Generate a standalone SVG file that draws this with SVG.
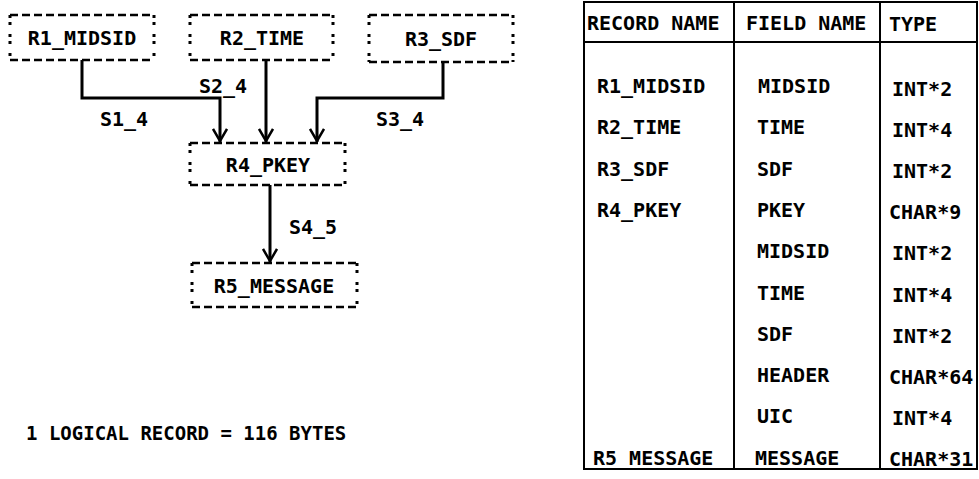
<svg xmlns="http://www.w3.org/2000/svg" width="979" height="479" viewBox="0 0 979 479">
<style>
.t{font-family:"DejaVu Sans Mono","Liberation Mono",monospace;font-size:20px;font-weight:bold;fill:#000}
.m{text-anchor:middle}
.h{fill:none;stroke:#000;stroke-width:2.5;stroke-dasharray:8 4}
.v{fill:none;stroke:#000;stroke-width:3;stroke-dasharray:3 4 3 9}
.c{fill:none;stroke:#000;stroke-width:3}
.g{fill:none;stroke:#000;stroke-width:2}
</style>
<defs>
<marker id="ah" viewBox="0 0 14 16" refX="14" refY="8" markerWidth="14" markerHeight="16" markerUnits="userSpaceOnUse" orient="auto">
<path d="M1,1 L13,8 L1,15" fill="none" stroke="#000" stroke-width="2.5"/>
</marker>
</defs>
<rect width="979" height="479" fill="#fff"/>
<g id="R1_MIDSID">
<path class="h" d="M10,15 H154 M10,60 H154"/>
<path class="v" d="M10,15 V60 M154,15 V60"/>
<text class="t m" x="82" y="45">R1_MIDSID</text>
</g>
<g id="R2_TIME">
<path class="h" d="M190,15 H333 M190,60 H333"/>
<path class="v" d="M190,15 V60 M333,15 V60"/>
<text class="t m" x="262" y="45">R2_TIME</text>
</g>
<g id="R3_SDF">
<path class="h" d="M369,15 H513 M369,62 H513"/>
<path class="v" d="M369,15 V62 M513,15 V62"/>
<text class="t m" x="441" y="46">R3_SDF</text>
</g>
<g id="R4_PKEY">
<path class="h" d="M190,143 H345 M190,185 H345"/>
<path class="v" d="M190,143 V185 M345,143 V185"/>
<text class="t m" x="268" y="172">R4_PKEY</text>
</g>
<g id="R5_MESSAGE">
<path class="h" d="M192,263 H357 M192,307 H357"/>
<path class="v" d="M192,263 V307 M357,263 V307"/>
<text class="t m" x="274" y="293">R5_MESSAGE</text>
</g>
<g id="connectors">
<path class="c" d="M82,60 V98 H220 V142" marker-end="url(#ah)"/>
<path class="c" d="M266,60 V142" marker-end="url(#ah)"/>
<path class="c" d="M443,62 V98 H317 V142" marker-end="url(#ah)"/>
<path class="c" d="M270,185 V262" marker-end="url(#ah)"/>
<text class="t" x="100" y="126">S1_4</text>
<text class="t" x="199" y="93">S2_4</text>
<text class="t" x="376" y="126">S3_4</text>
<text class="t" x="289" y="234">S4_5</text>
</g>
<text class="t" x="26" y="440" style="font-size:19px">1 LOGICAL RECORD = 116 BYTES</text>
<g id="table">
<rect class="g" x="584" y="2" width="393" height="467"/>
<path class="g" d="M584,42 H977 M734,2 V469 M880,2 V469"/>
<text class="t" x="587" y="30">RECORD NAME</text>
<text class="t" x="746" y="30">FIELD NAME</text>
<text class="t" x="889" y="31">TYPE</text>
<text class="t" x="597" y="93">R1_MIDSID</text>
<text class="t" x="597" y="134">R2_TIME</text>
<text class="t" x="597" y="176">R3_SDF</text>
<text class="t" x="597" y="217">R4_PKEY</text>
<text class="t" x="593" y="465">R5_MESSAGE</text>
<text class="t" x="758" y="93">MIDSID</text>
<text class="t" x="757" y="134">TIME</text>
<text class="t" x="757" y="176">SDF</text>
<text class="t" x="757" y="217">PKEY</text>
<text class="t" x="757" y="258">MIDSID</text>
<text class="t" x="757" y="300">TIME</text>
<text class="t" x="757" y="341">SDF</text>
<text class="t" x="757" y="382">HEADER</text>
<text class="t" x="757" y="423">UIC</text>
<text class="t" x="755" y="465">MESSAGE</text>
<text class="t" x="892" y="96">INT*2</text>
<text class="t" x="892" y="137">INT*4</text>
<text class="t" x="892" y="178">INT*2</text>
<text class="t" x="889" y="219">CHAR*9</text>
<text class="t" x="892" y="260">INT*2</text>
<text class="t" x="892" y="302">INT*4</text>
<text class="t" x="892" y="343">INT*2</text>
<text class="t" x="889" y="384">CHAR*64</text>
<text class="t" x="892" y="425">INT*4</text>
<text class="t" x="889" y="466">CHAR*31</text>
</g>
</svg>
